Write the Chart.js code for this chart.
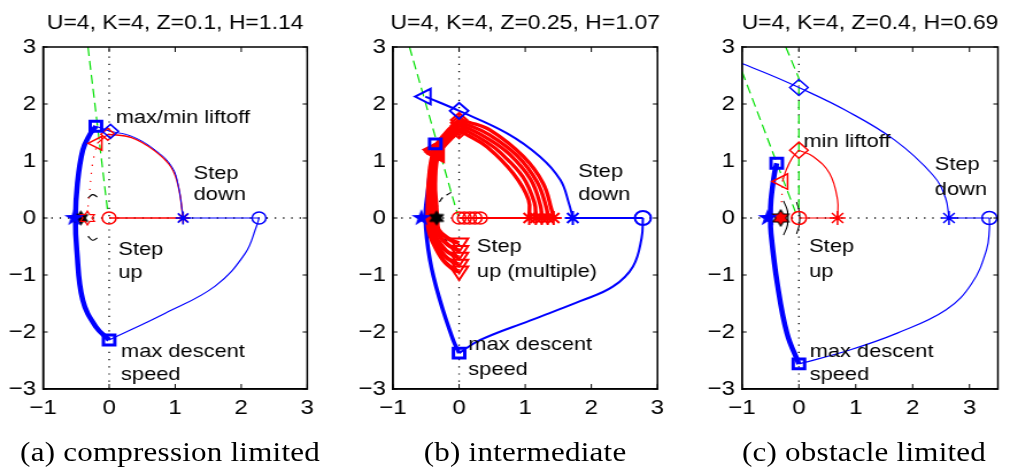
<!DOCTYPE html>
<html>
<head>
<meta charset="utf-8">
<script src="https://cdn.jsdelivr.net/npm/chart.js@4.4.1/dist/chart.umd.min.js"></script>
<style>
body{margin:0;background:#fff;width:1010px;height:472px;position:relative;overflow:hidden}
#fig{position:absolute;left:0;top:0;width:879px;height:472px;transform:scaleX(1.149);transform-origin:0 0}
canvas{position:absolute;top:0}
.cap{position:absolute;top:439px;font-family:"Liberation Serif","DejaVu Serif",serif;font-size:27px;letter-spacing:0.2px;line-height:27px;color:#000;white-space:nowrap;transform:translateX(-50%)}
</style>
</head>
<body>
<div id="fig">
<canvas id="A" width="287" height="430" style="left:0"></canvas>
<canvas id="B" width="287" height="430" style="left:304px"></canvas>
<canvas id="C" width="270" height="430" style="left:609px"></canvas>
<div class="cap" style="left:148px">(a) compression limited</div>
<div class="cap" style="left:457px">(b) intermediate</div>
<div class="cap" style="left:752px">(c) obstacle limited</div>
</div>
<script>
var xTicks = [-1, 0, 1, 2, 3];
var yTicks = [-3, -2, -1, 0, 1, 2, 3];

// ---- panel (a): compression limited ----
var aTitle = 'U=4, K=4, Z=0.1, H=1.14';
var aThick = [[-0.2,1.61],[-0.3,1.45],[-0.4,1.19],[-0.48,0.61],[-0.51,0],[-0.49,-0.56],[-0.4,-1.44],[-0.2,-1.91],[0,-2.14]];
var aLower = [[0,-2.14],[0.85,-1.67],[1.6,-1.2],[2.06,-0.62],[2.23,-0.15],[2.27,0]];
var aBlueArc = [[1.12,0],[1.05,0.55],[0.95,0.9],[0.7,1.19],[0.35,1.43],[0.02,1.52]];
var aRedArc = [[1.12,0],[1.05,0.54],[0.94,0.89],[0.69,1.18],[0.34,1.41],[-0.02,1.47]];
var aBlueLink = [[0.02,1.52],[-0.2,1.61]];
var aRedLink = [[-0.02,1.47],[-0.18,1.31]];
var aRedDots = [[-0.2,1.22],[-0.25,0.96],[-0.3,0.4],[-0.33,0.1]];
var aRedFlat = [[0,0],[1.12,0]];
var aBlueFlat = [[1.12,0],[2.27,0]];
var aGreen = [[-0.32,3],[-0.02,0.1]];
var aArcUp = [[-0.32,0.35],[-0.25,0.41],[-0.18,0.37]];
var aArcDown = [[-0.32,-0.32],[-0.25,-0.39],[-0.18,-0.35]];
var aSquares = [[-0.2,1.61],[0,-2.14]];
var aBlueDiamond = [[0.02,1.52]];
var aRedDiamond = [[-0.02,1.47]];
var aRedTriangle = [[-0.18,1.31]];
var aRedCircle = [[0,0]];
var aBlueCircle = [[2.27,0]];
var aAsterisk = [[1.12,0]];
var aBlueStar = [[-0.53,0]];
var aBlackHex = [[-0.43,0]];
var aRedHex = [[-0.33,0]];
var aNotes = ['max/min liftoff','Step','down','Step','up','max descent','speed'];

// ---- panel (b): intermediate ----
var bTitle = 'U=4, K=4, Z=0.25, H=1.07';
var bUpper = [[-0.51,2.13],[0,1.88],[0.72,1.49],[1.22,1.08],[1.53,0.67],[1.66,0.26],[1.72,0]];
var bLower = [[2.78,0],[2.76,-0.35],[2.63,-0.85],[2.33,-1.2],[1.83,-1.46],[1.07,-1.8],[0.32,-2.14],[0,-2.37]];
var bThick = [[0,-2.37],[-0.09,-2.14],[-0.29,-1.44],[-0.44,-0.74],[-0.51,0],[-0.47,0.5],[-0.42,0.95],[-0.36,1.3]];
var bBlueFlat = [[1.72,0],[2.78,0]];
var bRedFlat = [[0,0],[1.43,0]];
var bGreen = [[-0.75,3],[-0.02,0.05]];
var bDashArc = [[-0.12,0.45],[-0.27,0.33],[-0.36,0.05],[-0.32,-0.25],[-0.18,-0.4]];
var bRedArcs = [
  [[1.43,0],[1.40,0.14],[1.27,0.61],[0.97,1.08],[0.47,1.54],[0.15,1.68],[0,1.72]],
  [[1.34,0],[1.32,0.18],[1.18,0.63],[0.88,1.09],[0.46,1.46],[0.14,1.63],[0,1.67]],
  [[1.25,0],[1.23,0.22],[1.08,0.68],[0.76,1.12],[0.44,1.39],[0.13,1.58],[0,1.62]],
  [[1.16,0],[1.14,0.27],[0.96,0.73],[0.62,1.15],[0.43,1.32],[0.13,1.52],[0,1.57]],
  [[1.06,0],[1.05,0.32],[0.82,0.78],[0.42,1.25],[0.12,1.46],[0,1.52]]
];
var bRedFalls = [
  [[0,1.72],[-0.2,1.5],[-0.38,1.2],[-0.46,0.67],[-0.48,0]],
  [[0,1.67],[-0.19,1.46],[-0.36,1.18],[-0.44,0.65],[-0.45,0]],
  [[0,1.62],[-0.18,1.42],[-0.35,1.16],[-0.41,0.63],[-0.42,0]],
  [[0,1.57],[-0.17,1.38],[-0.33,1.14],[-0.39,0.61],[-0.38,0]],
  [[0,1.52],[-0.15,1.35],[-0.31,1.12],[-0.36,0.6],[-0.34,0.2],[-0.33,0]]
];
// landing legs, listed from the touchdown point back up to the left side
var bRedLandings = [
  [[0,-0.93],[-0.06,-0.92],[-0.24,-0.74],[-0.41,-0.39],[-0.46,-0.2],[-0.48,0]],
  [[0,-0.81],[-0.05,-0.8],[-0.22,-0.66],[-0.38,-0.36],[-0.43,-0.19],[-0.45,0]],
  [[0,-0.69],[-0.04,-0.68],[-0.2,-0.57],[-0.36,-0.32],[-0.4,-0.17],[-0.42,0]],
  [[0,-0.57],[-0.03,-0.56],[-0.17,-0.47],[-0.33,-0.27],[-0.37,-0.14],[-0.38,0]],
  [[0,-0.44],[-0.03,-0.43],[-0.15,-0.37],[-0.31,-0.21],[-0.33,0]]
];
var bRedCircles = [[0,0],[0.08,0],[0.16,0],[0.24,0],[0.32,0]];
var bRedAsterisks = [[1.43,0],[1.34,0],[1.25,0],[1.16,0],[1.06,0]];
var bRedDiamonds = [[0,1.72],[0,1.67],[0,1.62],[0,1.57],[0,1.52]];
var bRedTriLeft = [[-0.38,1.2],[-0.36,1.18],[-0.35,1.16],[-0.33,1.14],[-0.31,1.12]];
var bRedTriDown = [[0,-0.93],[0,-0.81],[0,-0.69],[0,-0.57],[0,-0.44]];
var bBlueTriangle = [[-0.51,2.13]];
var bBlueDiamond = [[0,1.88]];
var bBlueAsterisk = [[1.72,0]];
var bBlueCircle = [[2.78,0]];
var bSquares = [[0,-2.37],[-0.36,1.3]];
var bBlueStar = [[-0.57,0]];
var bBlackHex = [[-0.34,0]];
var bNotes = ['Step','down','Step','up (multiple)','max descent','speed'];

// ---- panel (c): obstacle limited ----
var cTitle = 'U=4, K=4, Z=0.4, H=0.69';
var cUpper = [[-1,2.71],[-0.5,2.51],[0,2.29],[0.82,1.89],[1.68,1.37],[2.36,0.75],[2.58,0.35],[2.64,0]];
var cLower = [[3.35,0],[3.35,-0.2],[3.3,-0.56],[3.04,-1.15],[2.59,-1.61],[1.73,-2.02],[0.88,-2.32],[0,-2.56]];
var cThick = [[0,-2.56],[-0.21,-2.02],[-0.38,-1.15],[-0.49,-0.27],[-0.5,0],[-0.49,0.32],[-0.43,0.78],[-0.39,0.96]];
var cBlueFlat = [[2.64,0],[3.35,0]];
var cRedFlat = [[0,0],[0.68,0]];
var cRedArc = [[0.68,0],[0.68,0.32],[0.54,0.78],[0.25,1.08],[0,1.19]];
var cRedBack = [[0,1.19],[-0.12,1.05],[-0.22,0.85],[-0.29,0.64]];
var cRedDots = [[-0.29,0.55],[-0.31,0.2]];
var cGreen1 = [[-1,2.57],[-0.04,0.05]];
var cGreen2 = [[-0.23,3],[0,2.45],[0,0.1]];
var cArcL = [[-0.27,0.3],[-0.2,0.12],[-0.2,-0.12],[-0.27,-0.3]];
var cArcR = [[-0.04,0.28],[0.01,0.1],[0.01,-0.1],[-0.04,-0.28]];
var cBlueDiamond = [[0,2.29]];
var cBlueAsterisk = [[2.64,0]];
var cBlueCircle = [[3.35,0]];
var cSquares = [[0,-2.56],[-0.39,0.96]];
var cBlueStar = [[-0.55,0]];
var cRedHex = [[-0.32,0]];
var cRedCircle = [[0,0]];
var cRedAsterisk = [[0.68,0]];
var cRedDiamond = [[0,1.19]];
var cRedTriangle = [[-0.29,0.64]];
var cNotes = ['min liftoff','Step','down','Step','up','max descent','speed'];

var xAxisLine = [[0,-3],[0,3]];
var yAxisLine = [[-1,0],[3.5,0]];

var FONT = '"Liberation Sans", Arial, sans-serif';
var BLUE = '#0000ff', RED = '#ff0000', GREEN = '#00e000';

function pts(a){ return a.map(function(p){ return {x: p[0], y: p[1]}; }); }
function line(a, color, w, dash, t){
    return {data: pts(a), showLine: true, borderColor: color, borderWidth: w, borderDash: dash || [],
        pointRadius: 0, pointHoverRadius: 0, tension: t == null ? 0.4 : t};
}
function mark(a, style, color, r, extra){
    return Object.assign({data: pts(a), showLine: false, pointStyle: style, pointRadius: r, pointHoverRadius: r,
        pointBorderColor: color, pointBackgroundColor: 'rgba(0,0,0,0)', pointBorderWidth: 1.5}, extra || {});
}
// filled star markers (pentagram / hexagram), drawn once and used as point images
function starImg(n, r, ri, fill, stroke, lw){
    var c = document.createElement('canvas');
    var s = Math.ceil(2 * r + lw + 2);
    c.width = c.height = s;
    var g = c.getContext('2d');
    g.beginPath();
    for (var i = 0; i < 2 * n; i++){
        var ang = -Math.PI / 2 + i * Math.PI / n;
        var rr = i % 2 ? ri : r;
        g.lineTo(s / 2 + rr * Math.cos(ang), s / 2 + rr * Math.sin(ang));
    }
    g.closePath();
    if (fill){ g.fillStyle = fill; g.fill(); }
    if (stroke){ g.strokeStyle = stroke; g.lineWidth = lw; g.stroke(); }
    return c;
}
var pent = starImg(5, 9, 3.6, BLUE, null, 0);
var hexBlack = starImg(6, 7, 4, '#000', '#000', 1);
var hexRed = starImg(6, 7, 4, null, RED, 1.2);
var hexRedFill = starImg(6, 8, 4.6, RED, '#000', 1.2);

// box, inward ticks on all four sides, title and the text notes
function frame(title, texts, at){
    return {
        id: 'frame',
        afterDraw: function(chart){
            var ctx = chart.ctx, a = chart.chartArea, x = chart.scales.x, y = chart.scales.y;
            ctx.save();
            ctx.strokeStyle = '#000';
            ctx.lineWidth = 1.5;
            ctx.strokeRect(a.left, a.top, a.right - a.left, a.bottom - a.top);
            ctx.lineWidth = 1;
            ctx.beginPath();
            x.ticks.forEach(function(t){
                var p = x.getPixelForValue(t.value);
                ctx.moveTo(p, a.bottom); ctx.lineTo(p, a.bottom - 5);
                ctx.moveTo(p, a.top); ctx.lineTo(p, a.top + 5);
            });
            y.ticks.forEach(function(t){
                var p = y.getPixelForValue(t.value);
                ctx.moveTo(a.left, p); ctx.lineTo(a.left + 4, p);
                ctx.moveTo(a.right, p); ctx.lineTo(a.right - 4, p);
            });
            ctx.stroke();
            ctx.fillStyle = '#000';
            ctx.textBaseline = 'middle';
            ctx.textAlign = 'center';
            ctx.font = '20px ' + FONT;
            ctx.fillText(title, (a.left + a.right) / 2, 23);
            ctx.font = '19px ' + FONT;
            ctx.textAlign = 'left';
            texts.forEach(function(s, i){
                ctx.fillText(s, x.getPixelForValue(at[i][0]), y.getPixelForValue(at[i][1]));
            });
            ctx.restore();
        }
    };
}

function panel(id, title, xMax, yWidth, padRight, datasets, texts, at){
    var tickFont = {family: FONT, size: 21};
    new Chart(document.getElementById(id), {
        type: 'scatter',
        data: {datasets: datasets},
        options: {
            responsive: false,
            animation: false,
            events: [],
            layout: {padding: {left: 0, right: padRight, top: 47, bottom: 0}},
            plugins: {legend: {display: false}, tooltip: {enabled: false}},
            scales: {
                x: {
                    type: 'linear', min: -1, max: xMax,
                    afterBuildTicks: function(s){ s.ticks = xTicks.map(function(v){ return {value: v}; }); },
                    afterFit: function(s){ s.height = 41; },
                    ticks: {color: '#000', font: tickFont, padding: 7,
                        callback: function(v){ return String(v).replace('-', '\u2212'); }},
                    grid: {drawOnChartArea: false, drawTicks: false},
                    border: {color: '#000', width: 1.5}
                },
                y: {
                    type: 'linear', min: -3, max: 3,
                    afterBuildTicks: function(s){ s.ticks = yTicks.map(function(v){ return {value: v}; }); },
                    afterFit: function(s){ s.width = yWidth; },
                    ticks: {color: '#000', font: tickFont, padding: 6,
                        callback: function(v){ return String(v).replace('-', '\u2212'); }},
                    grid: {drawOnChartArea: false, drawTicks: false},
                    border: {color: '#000', width: 1.5}
                }
            }
        },
        plugins: [frame(title, texts, at)]
    });
}

var dotted = [1.2, 6];

panel('A', aTitle, 3, 37.5, 19.6, [
    mark(aBlueStar, pent, BLUE, 9),
    mark(aRedHex, hexRed, RED, 7),
    mark(aBlackHex, hexBlack, '#000', 7),
    mark(aSquares, 'rect', BLUE, 7, {pointBorderWidth: 3}),
    mark(aBlueDiamond, 'rectRot', BLUE, 7),
    mark(aRedDiamond, 'rectRot', RED, 6),
    mark(aRedTriangle, 'triangle', RED, 8, {pointRotation: -90}),
    mark(aRedCircle, 'circle', RED, 6),
    mark(aBlueCircle, 'circle', BLUE, 6),
    mark(aAsterisk, 'star', BLUE, 6.5),
    mark(aAsterisk, 'star', RED, 5.5),
    line(aThick, BLUE, 4.5),
    line(aBlueLink, BLUE, 1.2, null, 0),
    line(aBlueArc, BLUE, 1, null),
    line(aRedArc, RED, 1.4, null),
    line(aRedLink, RED, 1.2, null, 0),
    line(aLower, BLUE, 1.2),
    line(aRedFlat, RED, 1.4, null, 0),
    line(aBlueFlat, BLUE, 1.2, null, 0),
    line(aRedDots, RED, 1.2, [1.2, 7]),
    line(aGreen, GREEN, 1.2, [9, 5], 0),
    line(aArcUp, '#000', 1.2, null),
    line(aArcDown, '#000', 1.2, null),
    line(xAxisLine, '#000', 1.3, dotted, 0),
    line(yAxisLine, '#000', 1.3, dotted, 0)
], aNotes, [[0.1,1.75],[1.28,0.78],[1.28,0.4],[0.14,-0.56],[0.14,-0.96],[0.18,-2.35],[0.18,-2.75]]);

var bSets = [
    mark(bBlackHex, hexBlack, '#000', 7),
    mark(bBlueStar, pent, BLUE, 9),
    mark(bBlueTriangle, 'triangle', BLUE, 9, {pointRotation: -90, pointBorderWidth: 2}),
    mark(bBlueDiamond, 'rectRot', BLUE, 8, {pointBorderWidth: 2}),
    mark(bBlueAsterisk, 'star', BLUE, 7, {pointBorderWidth: 2}),
    mark(bBlueCircle, 'circle', BLUE, 7, {pointBorderWidth: 2}),
    mark(bSquares, 'rect', BLUE, 7, {pointBorderWidth: 3}),
    mark(bRedCircles, 'circle', RED, 6),
    mark(bRedAsterisks, 'star', RED, 7, {pointBorderWidth: 2}),
    mark(bRedDiamonds, 'rectRot', RED, 7, {pointBorderWidth: 2}),
    mark(bRedTriLeft, 'triangle', RED, 9, {pointRotation: -90, pointBorderWidth: 2}),
    mark(bRedTriDown, 'triangle', RED, 9, {pointRotation: 180, pointBorderWidth: 2})
];
bRedLandings.forEach(function(a){ bSets.push(line(a, RED, 4)); });
bRedArcs.forEach(function(a){ bSets.push(line(a, RED, 3.4)); });
bRedFalls.forEach(function(a){ bSets.push(line(a, RED, 3.4)); });
bSets.push(
    line(bRedFlat, RED, 2.2, null, 0),
    line(bThick, BLUE, 3.5),
    line(bUpper, BLUE, 2),
    line(bLower, BLUE, 2),
    line(bBlueFlat, BLUE, 2, null, 0),
    line(bGreen, GREEN, 1.2, [9, 5], 0),
    line(bDashArc, '#000', 1.2, [5, 4]),
    line(xAxisLine, '#000', 1.3, dotted, 0),
    line(yAxisLine, '#000', 1.3, dotted, 0)
);
panel('B', bTitle, 3, 38, 18.8, bSets, bNotes, [[1.8,0.81],[1.8,0.4],[0.27,-0.5],[0.27,-0.94],[0.14,-2.23],[0.14,-2.67]]);

panel('C', cTitle, 3.5, 36.8, 4.2, [
    mark(cBlueStar, pent, BLUE, 9),
    mark(cRedHex, hexRedFill, RED, 8),
    mark(cSquares, 'rect', BLUE, 7, {pointBorderWidth: 3}),
    mark(cBlueDiamond, 'rectRot', BLUE, 8),
    mark(cBlueAsterisk, 'star', BLUE, 7),
    mark(cBlueCircle, 'circle', BLUE, 6.5),
    mark(cRedCircle, 'circle', RED, 6.5),
    mark(cRedAsterisk, 'star', RED, 7),
    mark(cRedDiamond, 'rectRot', RED, 8),
    mark(cRedTriangle, 'triangle', RED, 9, {pointRotation: -90}),
    line(cThick, BLUE, 4.5),
    line(cUpper, BLUE, 1.2),
    line(cLower, BLUE, 1.2),
    line(cBlueFlat, BLUE, 1.2, null, 0),
    line(cRedFlat, RED, 1.2, null, 0),
    line(cRedArc, RED, 1.2),
    line(cRedBack, RED, 1.2),
    line(cRedDots, RED, 1.2, [1.2, 6], 0),
    line(cGreen1, GREEN, 1.2, [9, 5], 0),
    line(cGreen2, GREEN, 1.2, [9, 5], 0),
    line(cArcL, '#000', 1.1),
    line(cArcR, '#000', 1.1),
    line(xAxisLine, '#000', 1.3, dotted, 0),
    line(yAxisLine, '#000', 1.3, dotted, 0)
], cNotes, [[0.08,1.34],[2.39,0.93],[2.39,0.49],[0.18,-0.5],[0.18,-0.94],[0.19,-2.35],[0.19,-2.75]]);
</script>
</body>
</html>
